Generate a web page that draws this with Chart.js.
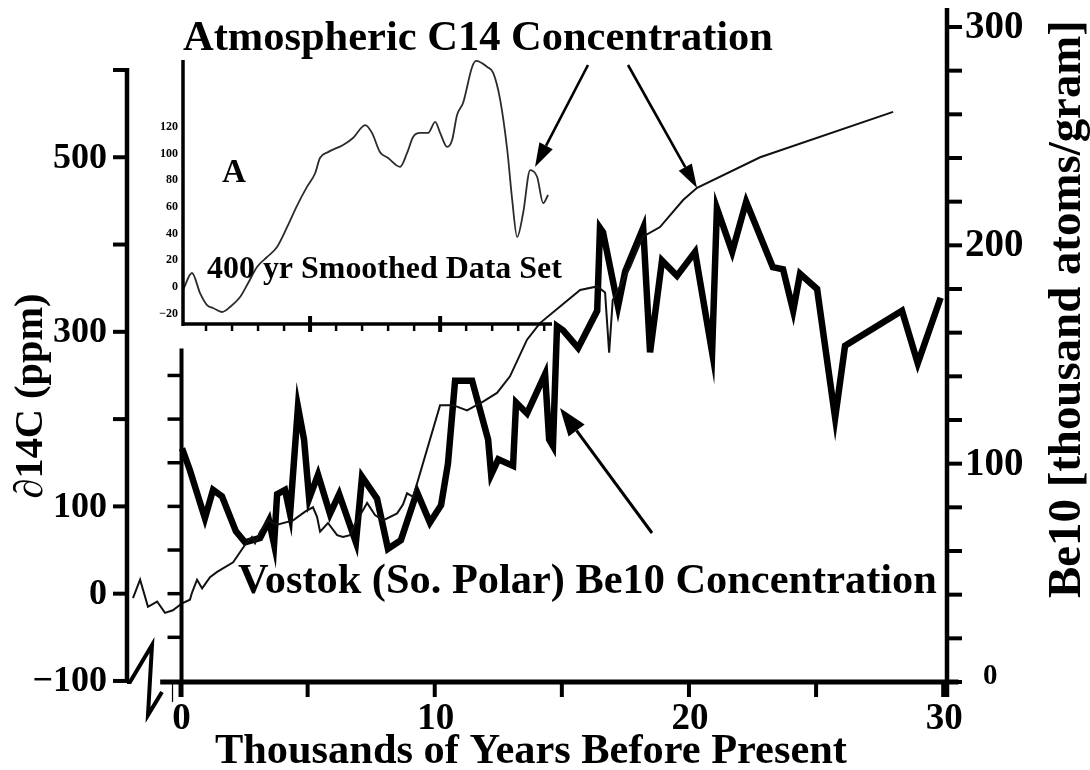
<!DOCTYPE html>
<html>
<head>
<meta charset="utf-8">
<script src="https://cdn.jsdelivr.net/npm/chart.js@4/dist/chart.umd.min.js"></script>
<style>
  html, body { margin: 0; padding: 0; background: #fff; }
  #wrap { position: relative; width: 1090px; height: 770px; background: #fff; }
  #wrap canvas { position: absolute; left: 0; top: 0; }
</style>
</head>
<body>
<div id="wrap">
  <canvas id="main" width="1090" height="770"></canvas>
  <canvas id="inset" width="1090" height="770"></canvas>
</div>
<script>
// Atmospheric ∂14C (ppm), thousands of years before present
const c14Years = [-1.87, -1.59, -1.28, -0.92, -0.61, -0.3, 0.06, 0.37, 0.45, 0.65, 0.85, 1.16, 1.44, 2.07,
  2.54, 2.81, 2.93, 3.13, 3.44, 3.8, 4.43, 4.9, 5.21, 5.37, 5.49, 5.8, 6.16, 6.39, 6.67, 6.79, 7.34, 7.65,
  7.97, 8.52, 8.75, 8.91, 9.15, 10.21, 10.72, 11.27, 11.9, 12.45, 12.96, 13.63, 14.14, 14.93, 15.72, 16.39,
  16.7, 16.86, 17.0, 17.68, 18.19, 18.86, 19.77, 20.32, 22.8, 28.03];
const c14Values = [-5, 16, -15, -9, -22, -19, -11, -7, 1, 16, 6, 19, 25, 36,
  56, 65, 58, 71, 84, 79, 84, 94, 99, 88, 71, 81, 67, 65, 67, 76, 104, 90,
  84, 92, 102, 115, 111, 216, 216, 210, 220, 230, 249, 291, 310, 329, 348, 352,
  345, 276, 336, 374, 409, 420, 451, 465, 500, 552];

// Vostok Be10 (thousand atoms/gram)
const be10Years = [0.06, 0.37, 0.96, 1.28, 1.63, 2.18, 2.54, 3.13, 3.48, 3.68, 3.8, 4.11, 4.31, 4.62, 4.86,
  5.06, 5.41, 5.88, 6.24, 6.9, 7.14, 7.73, 8.16, 8.67, 9.3, 9.81, 10.25, 10.52, 10.8, 11.47, 12.1, 12.22,
  12.5, 13.08, 13.2, 13.63, 14.34, 14.5, 14.65, 14.81, 15.05, 15.64, 16.39, 16.5, 16.62, 17.21, 17.49, 18.2,
  18.47, 18.94, 19.53, 20.24, 20.91, 21.1, 21.7, 22.25, 23.3, 23.7, 24.1, 24.37, 25.04, 25.75, 26.14, 28.38,
  29.0, 29.9];
const be10Values = [107, 97, 75, 88, 85, 69, 64, 66, 74, 63, 86, 88, 77, 126, 111,
  84, 95, 77, 86, 64, 94, 84, 61, 65, 87, 73, 81, 100, 138, 138, 111, 95,
  102, 99, 128, 123, 141, 111, 108, 163, 161, 153, 170, 208, 206, 172, 188, 208,
  151, 193, 186, 197, 151, 217, 197, 220, 190, 189, 170, 187, 180, 121, 154, 170,
  146, 176];

// 400 yr smoothed ∂14C data set
const smoothYears = [0.12, 0.46, 0.77, 1.04, 1.27, 1.62, 1.92, 2.31, 2.62, 2.96, 3.35, 3.73, 4.12, 4.5,
  4.88, 5.19, 5.38, 5.69, 6.27, 6.65, 7.12, 7.38, 7.69, 8.0, 8.46, 8.73, 8.96, 9.23, 9.54, 9.81, 10.0,
  10.27, 10.46, 10.65, 10.88, 11.23, 11.38, 11.81, 12.04, 12.31, 12.58, 12.77, 12.96, 13.19, 13.46, 13.73,
  13.96, 14.15];
const smoothValues = [-2, 10.5, -4.5, -13.5, -15.7, -18.7, -15, -7.5, 3, 15, 22.5, 30, 45, 61,
  75, 85, 96.6, 101, 106.4, 111.6, 121.3, 115.4, 101, 96.6, 90, 100.4, 112.4, 115.4, 115.4, 123.6, 115.4,
  104.9, 110.1, 128.8, 137.8, 164.8, 169.3, 164.8, 160.3, 140, 102.6, 65.2, 37.5, 55.4, 87.6, 82.4,
  62.9, 68.9];

const xTickLabels = [0, 10, 20, 30];
const c14TickLabels = [-100, 0, 100, 300, 500];
const be10TickLabels = [0, 100, 200, 300];
const insetTickLabels = [-20, 0, 20, 40, 60, 80, 100, 120];

const SERIF = '"Liberation Serif", "Times New Roman", "DejaVu Serif", serif';
const toXY = (xs, ys) => xs.map((x, i) => ({ x: x, y: ys[i] }));
const fmt = v => (v < 0 ? '\u2212' + Math.abs(v) : String(v));

// font size that makes a string span a given width
function fitSize(ctx, text, width, weight) {
  ctx.font = weight + ' 100px ' + SERIF;
  return 100 * width / ctx.measureText(text).width;
}
function fitText(ctx, text, x, y, width, opts) {
  const o = opts || {};
  const size = fitSize(ctx, text, width, 'bold');
  ctx.save();
  ctx.translate(x, y);
  if (o.rotate) ctx.rotate(o.rotate);
  ctx.font = 'bold ' + size.toFixed(2) + 'px ' + SERIF;
  ctx.textAlign = o.align || 'left';
  ctx.textBaseline = o.baseline || 'alphabetic';
  ctx.fillText(text, 0, 0);
  ctx.restore();
}
function line(ctx, pts, lw) {
  ctx.lineWidth = lw;
  ctx.beginPath();
  ctx.moveTo(pts[0][0], pts[0][1]);
  for (let i = 1; i < pts.length; i++) ctx.lineTo(pts[i][0], pts[i][1]);
  ctx.stroke();
}
function arrow(ctx, x1, y1, x2, y2, headLen, headW, lw) {
  const a = Math.atan2(y2 - y1, x2 - x1);
  const bx = x2 - headLen * Math.cos(a), by = y2 - headLen * Math.sin(a);
  line(ctx, [[x1, y1], [bx, by]], lw);
  ctx.beginPath();
  ctx.moveTo(x2, y2);
  ctx.lineTo(bx + headW / 2 * Math.sin(a), by - headW / 2 * Math.cos(a));
  ctx.lineTo(bx - headW / 2 * Math.sin(a), by + headW / 2 * Math.cos(a));
  ctx.closePath();
  ctx.fill();
}

// axes, break mark, titles and arrows of the main panel
const mainDecor = {
  id: 'mainDecor',
  afterDatasetsDraw(chart) {
    const ctx = chart.ctx;
    const area = chart.chartArea;
    const X = v => chart.scales.x.getPixelForValue(v);
    const YC = v => chart.scales.yC.getPixelForValue(v);
    const YB = v => chart.scales.yB.getPixelForValue(v);
    const base = YB(0);
    ctx.save();
    ctx.strokeStyle = '#000';
    ctx.fillStyle = '#000';
    ctx.lineCap = 'butt';

    // outer ∂14C axis with break mark
    const L = area.left;
    line(ctx, [[L, YC(600) - 2], [L, YC(-100)]], 4.5);
    for (let v = -100; v <= 600; v += 100) line(ctx, [[L - 14, YC(v)], [L, YC(v)]], 4);
    line(ctx, [[L, base], [L + 3, base], [L + 25, base - 37], [L + 21, base + 33], [L + 35, base + 10]], 4);
    ctx.font = 'bold 36px ' + SERIF;
    ctx.textAlign = 'right';
    ctx.textBaseline = 'middle';
    c14TickLabels.forEach(v => ctx.fillText(fmt(v), L - 20, YC(v) + 1));

    // inner ∂14C axis along year 0
    const x0 = X(0) + 1;
    line(ctx, [[x0, YC(281)], [x0, base + 15]], 4);
    for (let v = -50; v <= 250; v += 50) line(ctx, [[x0 - 14, YC(v)], [x0, YC(v)]], 3.5);

    // time axis
    line(ctx, [[X(-0.8), base], [X(30.6), base]], 5);
    for (let v = 0; v <= 30; v += 5) line(ctx, [[X(v), base], [X(v), base + 15]], 4);
    line(ctx, [[X(0) - 8, base], [X(0) - 8, base + 20]], 1.2);
    ctx.font = 'bold 37px ' + SERIF;
    ctx.textAlign = 'center';
    ctx.textBaseline = 'middle';
    xTickLabels.forEach(v => ctx.fillText(String(v), X(v) + 1, base + 37));

    // Be10 axis on the right
    const R = area.right;
    line(ctx, [[R, area.top], [R, base + 15]], 4.5);
    for (let v = 0; v <= 300; v += 20) line(ctx, [[R, YB(v)], [R + 15, YB(v)]], 4);
    ctx.textAlign = 'left';
    ctx.textBaseline = 'middle';
    be10TickLabels.forEach(v => {
      if (v === 0) {
        ctx.font = 'bold 29px ' + SERIF;
        ctx.fillText('0', R + 36, YB(0) - 5);
      } else {
        ctx.font = 'bold 39px ' + SERIF;
        ctx.fillText(String(v), R + 18, YB(v) + 1);
      }
    });

    // axis titles
    fitText(ctx, 'Thousands of Years Before Present', 215, 763, 632);
    fitText(ctx, '\u220214C (ppm)', 32, 396, 205, { rotate: -Math.PI / 2, align: 'center', baseline: 'middle' });
    fitText(ctx, 'Be10 [thousand atoms/gram]', 1068, 309, 578, { rotate: -Math.PI / 2, align: 'center', baseline: 'middle' });

    // series labels and pointers
    fitText(ctx, 'Atmospheric C14 Concentration', 183, 50, 590);
    fitText(ctx, 'Vostok (So. Polar) Be10 Concentration', 238, 593, 699);
    arrow(ctx, 588, 65, 535, 167, 24, 15, 2.6);
    arrow(ctx, 628, 65, 697, 188, 24, 15, 2.6);
    arrow(ctx, 652, 533, 560, 408, 28, 20, 3);
    ctx.restore();
  }
};

new Chart(document.getElementById('main'), {
  type: 'line',
  data: {
    datasets: [
      {
        label: 'Atmospheric C14 Concentration',
        data: toXY(c14Years, c14Values),
        yAxisID: 'yC',
        borderColor: '#111',
        borderWidth: 2,
        pointRadius: 0,
        tension: 0,
        fill: false
      },
      {
        label: 'Vostok (So. Polar) Be10 Concentration',
        data: toXY(be10Years, be10Values),
        yAxisID: 'yB',
        borderColor: '#000',
        borderWidth: 6.5,
        borderJoinStyle: 'miter',
        pointRadius: 0,
        tension: 0,
        fill: false
      }
    ]
  },
  options: {
    responsive: false,
    animation: false,
    devicePixelRatio: 1,
    layout: { padding: { left: 127, right: 143, top: 8, bottom: 88 } },
    plugins: { legend: { display: false }, tooltip: { enabled: false } },
    scales: {
      x: { type: 'linear', min: -2.105, max: 30.15, display: false },
      yC: { type: 'linear', position: 'left', min: -101.2, max: 671, display: false },
      yB: { type: 'linear', position: 'right', min: 0, max: 308.7, display: false }
    }
  },
  plugins: [mainDecor]
});

// axes and captions of the smoothed-data inset
const insetDecor = {
  id: 'insetDecor',
  afterDatasetsDraw(chart) {
    const ctx = chart.ctx;
    const area = chart.chartArea;
    const X = v => chart.scales.x.getPixelForValue(v);
    const Y = v => chart.scales.y.getPixelForValue(v);
    ctx.save();
    ctx.strokeStyle = '#000';
    ctx.fillStyle = '#000';
    line(ctx, [[area.left, area.top], [area.left, area.bottom + 2]], 3.5);
    line(ctx, [[area.left, area.bottom], [area.right, area.bottom]], 3.5);
    for (let k = 1; k <= 14; k++) {
      if (k % 5 === 0) line(ctx, [[X(k), area.bottom - 8], [X(k), area.bottom + 8]], 4);
      else line(ctx, [[X(k), area.bottom], [X(k), area.bottom + 7]], 2.5);
    }
    ctx.font = 'bold 12px ' + SERIF;
    ctx.textAlign = 'right';
    ctx.textBaseline = 'middle';
    insetTickLabels.forEach(v => ctx.fillText(fmt(v), area.left - 5, Y(v)));
    fitText(ctx, 'A', 222, 182, 24);
    fitText(ctx, '400 yr Smoothed Data Set', 207, 278, 355);
    ctx.restore();
  }
};

new Chart(document.getElementById('inset'), {
  type: 'line',
  data: {
    datasets: [{
      label: '400 yr Smoothed Data Set',
      data: toXY(smoothYears, smoothValues),
      borderColor: '#2b2b2b',
      borderWidth: 1.8,
      pointRadius: 0,
      tension: 0.4,
      cubicInterpolationMode: 'monotone',
      fill: false
    }]
  },
  options: {
    responsive: false,
    animation: false,
    devicePixelRatio: 1,
    layout: { padding: { left: 183, right: 538, top: 60, bottom: 446 } },
    plugins: { legend: { display: false }, tooltip: { enabled: false } },
    scales: {
      x: { type: 'linear', min: 0.115, max: 14.3, display: false },
      y: { type: 'linear', min: -27.7, max: 170, display: false }
    }
  },
  plugins: [insetDecor]
});
</script>
</body>
</html>
